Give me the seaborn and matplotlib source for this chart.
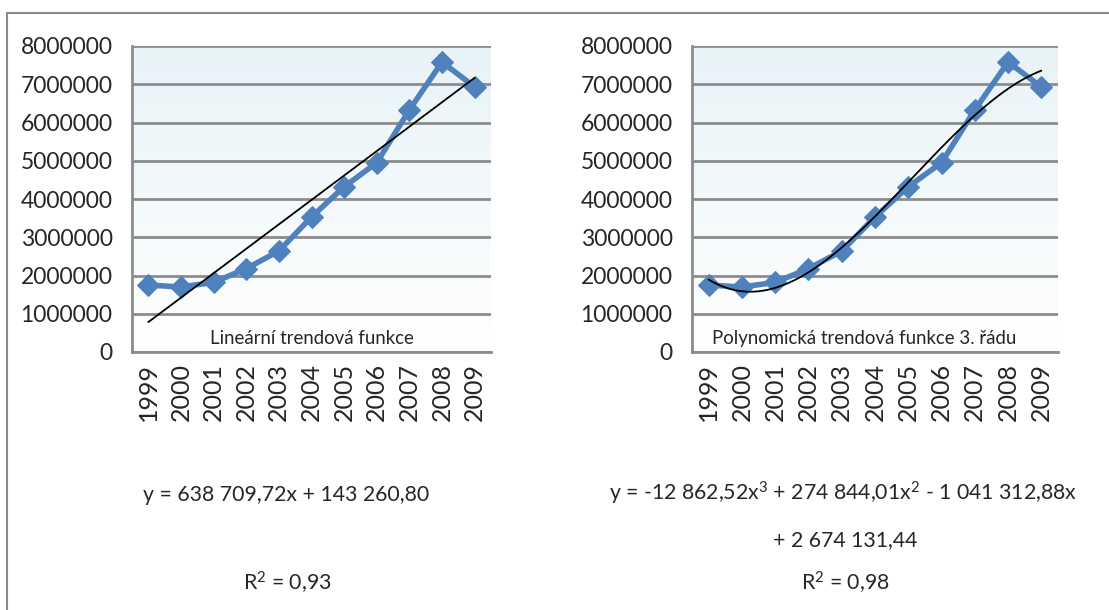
import numpy as np
import pandas as pd
import matplotlib
matplotlib.use("Agg")
import matplotlib.pyplot as plt
from matplotlib.colors import LinearSegmentedColormap
from matplotlib.lines import Line2D
import seaborn as sns

# Yearly values
years = ["1999", "2000", "2001", "2002", "2003", "2004", "2005", "2006", "2007", "2008", "2009"]
values = [1750000, 1700000, 1820000, 2180000, 2640000, 3530000,
          4320000, 4950000, 6330000, 7580000, 6930000]

# Trend coefficients (x = 1 .. 11), highest power first
linear_coef = [638709.72, 143260.80]
cubic_coef = [-12862.52, 274844.01, -1041312.88, 2674131.44]

panel_titles = ["Lineární trendová funkce", "Polynomická trendová funkce 3. řádu"]
equation_lines = [
    ["y = 638 709,72x + 143 260,80", "R$^2$ = 0,93"],
    ["y = -12 862,52x$^3$ + 274 844,01x$^2$ - 1 041 312,88x", "+ 2 674 131,44", "R$^2$ = 0,98"],
]
y_ticks = [0, 1000000, 2000000, 3000000, 4000000, 5000000, 6000000, 7000000, 8000000]

sns.set_style("white")
plt.rcParams["font.family"] = ["Lato", "DejaVu Sans"]
plt.rcParams["mathtext.fontset"] = "custom"
plt.rcParams["mathtext.rm"] = "Lato"
plt.rcParams["mathtext.it"] = "Lato"
plt.rcParams["mathtext.bf"] = "Lato:bold"

W, H = 1109, 610
fig = plt.figure(figsize=(W / 100, H / 100), dpi=100)

def fx(px):
    return px / W

def fy(py):
    return 1 - py / H

GRID = "#8c8c8c"
BLUE = "#4f81bd"
bg_cmap = LinearSegmentedColormap.from_list("bg", ["#ffffff", "#e8f3f7"])

df = pd.DataFrame({"pos": np.arange(1, len(years) + 1), "value": values})
xs = np.linspace(1, len(years), 300)
trends = [np.polyval(linear_coef, xs), np.polyval(cubic_coef, xs)]

panels = [(132, 491), (692, 1058)]
top_px, bot_px = 46, 352

for i, (l, r) in enumerate(panels):
    ax = fig.add_axes([fx(l), fy(bot_px), fx(r - l), (bot_px - top_px) / H])
    ax.set_xlim(0.5, len(years) + 0.5)
    ax.set_ylim(0, 8000000)

    grad = np.linspace(0, 1, 256).reshape(-1, 1)
    ax.imshow(grad, extent=[0.5, len(years) + 0.5, 0, 8000000], origin="lower",
              aspect="auto", cmap=bg_cmap, zorder=0)

    ax.set_axisbelow(True)
    ax.yaxis.grid(True, color=GRID, linewidth=2)
    ax.xaxis.grid(False)

    sns.lineplot(data=df, x="pos", y="value", ax=ax, color=BLUE, linewidth=4,
                 marker="D", markersize=11.5, markeredgecolor=BLUE, zorder=3)
    ax.plot(xs, trends[i], color="black", linewidth=1.3, zorder=4)

    ax.set_yticks(y_ticks)
    ax.set_yticklabels([str(v) for v in y_ticks], fontsize=16.5)
    ax.set_xticks(df["pos"])
    ax.set_xticklabels(years, rotation=90, fontsize=18)
    ax.set_xticks(np.arange(0.5, len(years) + 1), minor=True)
    ax.tick_params(axis="x", which="major", length=0, pad=8)
    ax.tick_params(axis="x", which="minor", length=7, width=1.5, color=GRID)
    ax.tick_params(axis="y", length=8, width=2, color=GRID, pad=6)
    ax.set_xlabel("")
    ax.set_ylabel("")

    for side in ("top", "right"):
        ax.spines[side].set_visible(False)
    for side in ("left", "bottom"):
        ax.spines[side].set_color(GRID)
        ax.spines[side].set_linewidth(2)

    ax.text(0.5 if i == 0 else 0.47, 0.045, panel_titles[i], transform=ax.transAxes,
            ha="center", va="center", fontsize=13.4, zorder=5)

# Equations below each chart
eq_pos = [[(286, 495), (287, 583)], [(843, 493), (845, 540), (845, 583)]]
for lines, pos in zip(equation_lines, eq_pos):
    for txt, (px, py) in zip(lines, pos):
        fig.text(fx(px), fy(py), txt, ha="center", va="center", fontsize=15.3)

# Outer frame lines
fig.add_artist(Line2D([fx(7), 1], [fy(13), fy(13)], color="#8a8a8a", linewidth=1.5))
fig.add_artist(Line2D([fx(7), fx(7)], [fy(13), 0], color="#8a8a8a", linewidth=1.5))

fig.savefig("out.png", dpi=100)
